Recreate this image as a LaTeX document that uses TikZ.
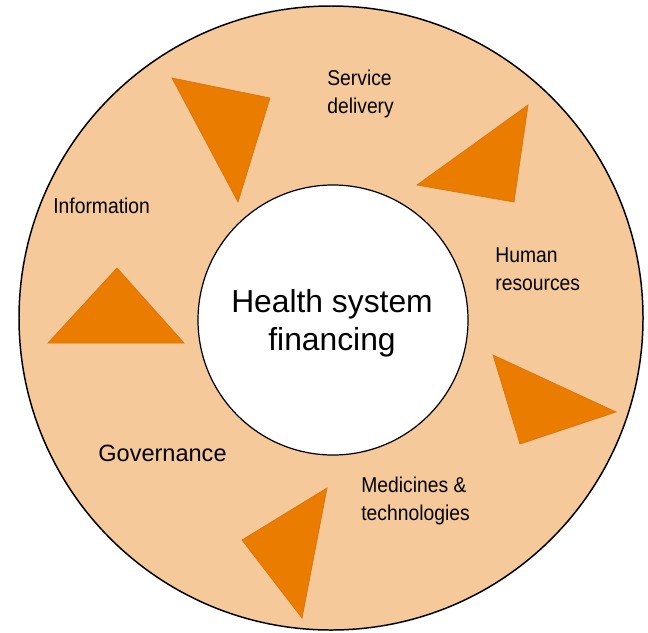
\documentclass[tikz,border=0pt]{standalone}
\usepackage{fontspec}
\setmainfont{Liberation Sans}
\newfontfamily\narrowsans[FakeStretch=0.9]{Liberation Sans}
\usetikzlibrary{positioning}
\definecolor{RingPeach}{HTML}{F5C99A}
\definecolor{PointerOrange}{HTML}{EA7D00}
\definecolor{PointerEdge}{HTML}{D97410}

\tikzset{
  pointer/.style={fill=PointerOrange, draw=PointerEdge, line width=0.4pt},
  blocklabel/.style={anchor=base west, align=left, inner sep=0pt,
    font=\narrowsans\fontsize{12.2}{15.4}\selectfont},
}

\begin{document}
\begin{tikzpicture}[x=0.02cm, y=-0.02cm]
    \useasboundingbox (0,0) rectangle (648,632);
    % outer ring and the hub
    \filldraw[fill=RingPeach, draw=black, line width=0.85pt] (331,318) circle [radius=312];
    \filldraw[fill=white, draw=black, line width=0.7pt] (333,320) circle [radius=135];
    % orange pointers round the ring
    \foreach \a/\b/\c in {{(172,78)}/{(270,98)}/{(238,202)},
                          {(528,105)}/{(417,185)}/{(514,202)},
                          {(493,355)}/{(616,412)}/{(520,444)},
                          {(327,488)}/{(242,540)}/{(302,618)},
                          {(117,268)}/{(48,343)}/{(184,343)}} {
      \filldraw[pointer] \a -- \b -- \c -- cycle;
    }
    % labels (base anchor sits on the last line)
    \node[align=center, inner sep=0pt, anchor=base,
          font=\fontsize{18.1}{21.6}\selectfont] (hub) at (332,350) {Health system\\financing};
    \node[blocklabel] (service) at (327,113) {Service\\delivery};
    \node[blocklabel] (human) at (495,290) {Human\\resources};
    \node[blocklabel] (medicines) at (361,520) {Medicines \&\\technologies};
    \node[blocklabel] (information) at (53,213) {Information};
    \node[anchor=base west, inner sep=0pt, font=\fontsize{13.4}{15}\selectfont] (governance) at (98,461) {Governance};
  \end{tikzpicture}
\end{document}
